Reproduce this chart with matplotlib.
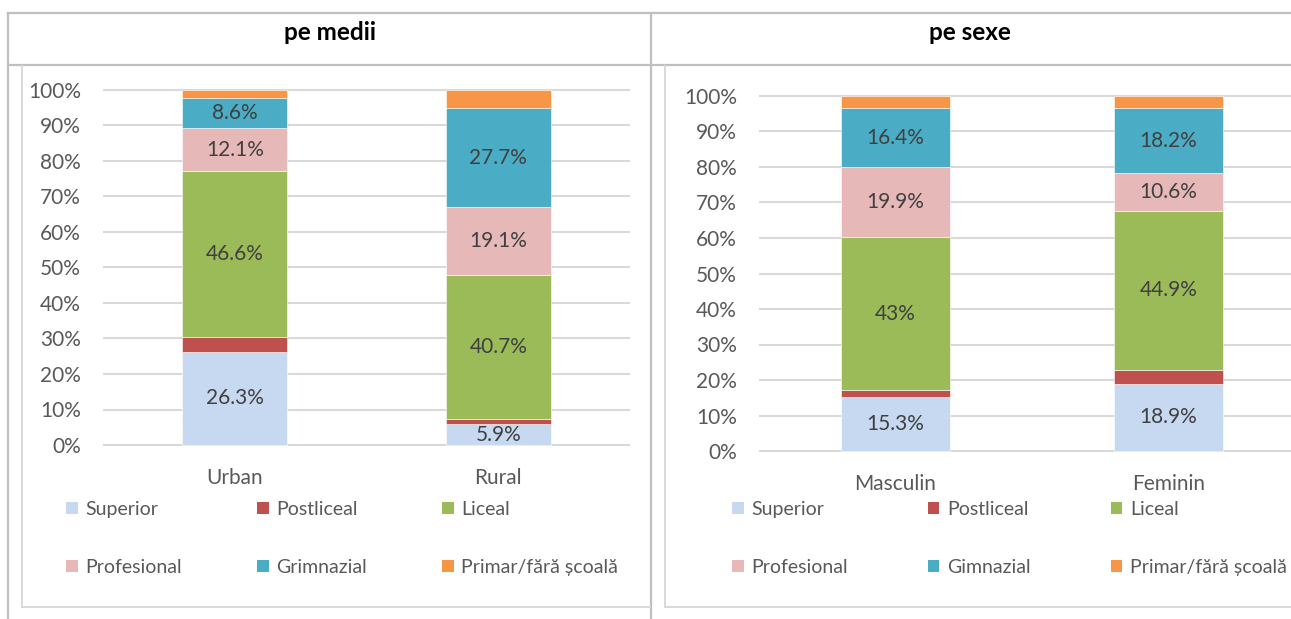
import numpy as np
import matplotlib.pyplot as plt
from matplotlib.patches import Patch
from matplotlib.lines import Line2D

plt.rcParams['font.family'] = ['Lato', 'DejaVu Sans']

# education level shares (%), bottom to top
levels = ['Superior', 'Postliceal', 'Liceal', 'Profesional', 'Grimnazial', 'Primar/fără școală']
levels_sex = ['Superior', 'Postliceal', 'Liceal', 'Profesional', 'Gimnazial', 'Primar/fără școală']
colors = ['#C6D9F1', '#C0504D', '#9BBB59', '#E6B9B8', '#4BACC6', '#F79646']

medii = ['Urban', 'Rural']
urban = [26.3, 4.2, 46.6, 12.1, 8.6, 2.2]
rural = [5.9, 1.4, 40.7, 19.1, 27.7, 5.2]

sexe = ['Masculin', 'Feminin']
masculin = [15.3, 1.9, 43.0, 19.9, 16.4, 3.5]
feminin = [18.9, 3.9, 44.9, 10.6, 18.2, 3.5]

# segments that carry a value label
labelled = [True, False, True, True, True, False]

W, H = 1291, 619
fig = plt.figure(figsize=(W / 100, H / 100), dpi=100)

def px_axes(x0, x1, y_top, y_bot):
    return fig.add_axes([x0 / W, 1 - y_bot / H, (x1 - x0) / W, (y_bot - y_top) / H])

def hline(x0, x1, y, c, lw):
    fig.add_artist(Line2D([x0 / W, x1 / W], [1 - y / H, 1 - y / H], color=c, lw=lw))

def vline(x, y0, y1, c, lw):
    fig.add_artist(Line2D([x / W, x / W], [1 - y0 / H, 1 - y1 / H], color=c, lw=lw))

# table frame
frame = '#BFBFBF'
hline(8, W, 13, frame, 1.6)
hline(8, W, 65, frame, 1.6)
vline(8, 13, H, frame, 1.6)
vline(651, 13, H, frame, 1.6)

# chart boxes
box = '#D9D9D9'
vline(22, 66, 607, box, 1.4)
hline(22, 650, 607, box, 1.4)
vline(665, 66, 607, box, 1.4)
hline(665, W, 607, box, 1.4)

fig.text(329.5 / W, 1 - 33 / H, 'pe medii', ha='center', va='center',
         fontsize=17.5, fontweight='bold', color='black')
fig.text(970 / W, 1 - 33 / H, 'pe sexe', ha='center', va='center',
         fontsize=17.5, fontweight='bold', color='black')


def stacked(ax, cats, series, names):
    data = np.array(series) / 100.0
    x = np.arange(len(cats))
    bottom = np.zeros(len(cats))
    handles = []
    for i, name in enumerate(names):
        vals = data[:, i]
        ax.bar(x, vals, 0.4, bottom=bottom, color=colors[i],
               edgecolor='white', linewidth=0.4, zorder=3)
        if labelled[i]:
            for b, v, b0 in zip(x, vals, bottom):
                ax.text(b, b0 + v / 2, f'{v * 100:g}%', ha='center', va='center',
                        fontsize=15, color='#404040', zorder=4)
        bottom += vals
        handles.append(Patch(facecolor=colors[i], label=name))
    ax.set_xlim(-0.5, 1.5)
    ax.set_ylim(-0.003, 1.012)
    ticks = np.arange(0, 1.01, 0.1)
    ax.set_yticks(ticks)
    ax.set_yticklabels([f'{int(round(t * 100))}%' for t in ticks])
    ax.set_xticks(x)
    ax.set_xticklabels(cats)
    ax.yaxis.grid(True, color='#D9D9D9', lw=1.5, zorder=0)
    ax.set_axisbelow(True)
    for s in ax.spines.values():
        s.set_visible(False)
    ax.tick_params(axis='both', length=0, labelsize=15, colors='#595959')
    ax.tick_params(axis='y', pad=16)
    ax.tick_params(axis='x', pad=16)
    return handles


def add_legend(handles, x_left, y_top, spacing):
    order = [0, 3, 1, 4, 2, 5]
    h = [handles[i] for i in order]
    fig.legend(handles=h, labels=[p.get_label() for p in h], ncol=3,
               loc='upper left', bbox_to_anchor=(x_left / W, 1 - y_top / H),
               frameon=False, fontsize=14, labelcolor='#595959',
               handlelength=0.6, handleheight=0.6, handletextpad=0.4,
               columnspacing=spacing, labelspacing=2.1, borderpad=0, borderaxespad=0)


ax1 = px_axes(103, 630, 90 - 0.012 * 355, 445 + 0.003 * 355)
h1 = stacked(ax1, medii, [urban, rural], levels)
add_legend(h1, 66, 501, 3.85)

ax2 = px_axes(759, 1305, 96 - 0.012 * 355, 451 + 0.003 * 355)
h2 = stacked(ax2, sexe, [masculin, feminin], levels_sex)
add_legend(h2, 732, 501, 4.1)

fig.savefig('out.png', dpi=100)
